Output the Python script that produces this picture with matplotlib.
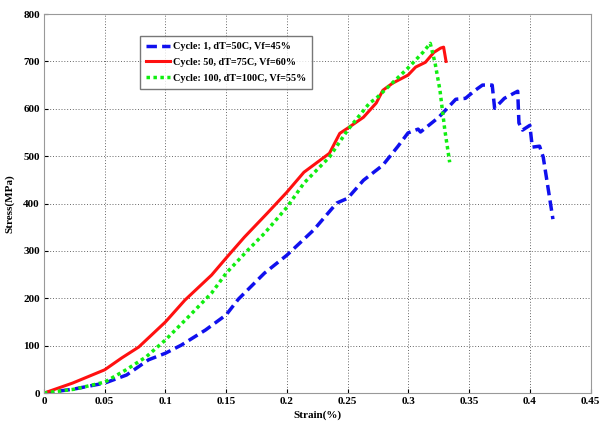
import matplotlib.pyplot as plt

# values
strain_c1 = [0.0, 0.024, 0.05, 0.068, 0.086, 0.1, 0.113, 0.133, 0.15, 0.16, 0.1815,
             0.2, 0.222, 0.241, 0.25, 0.263, 0.279, 0.2915, 0.2997, 0.308, 0.31, 0.325,
             0.339, 0.347, 0.355, 0.361, 0.369, 0.371, 0.379, 0.39, 0.391, 0.394,
             0.40, 0.402, 0.408, 0.411, 0.419]
stress_c1 = [0, 8, 21, 38, 70, 84, 101, 133, 165, 198, 253,
             291, 344, 401, 411, 449, 481, 521, 549, 557, 551, 582,
             620, 622, 639, 650, 650, 601, 622, 637, 570, 555,
             565, 519, 521, 498, 367]

strain_c50 = [0.0, 0.0024, 0.0236, 0.05, 0.064, 0.078, 0.1, 0.116, 0.138, 0.15, 0.165,
              0.184, 0.2, 0.214, 0.235, 0.2435, 0.25, 0.263, 0.2735, 0.279, 0.287,
              0.2997, 0.306, 0.314, 0.321, 0.3265, 0.329, 0.331]
stress_c50 = [0, 2, 21, 49, 74, 97, 150, 196, 249, 285, 329,
              380, 424, 466, 506, 548, 559, 582, 612, 639, 654,
              671, 688, 698, 719, 728, 730, 700]

strain_c100 = [0.0, 0.025, 0.05, 0.0676, 0.084, 0.1, 0.119, 0.138, 0.15, 0.168, 0.1815,
               0.2, 0.214, 0.235, 0.25, 0.268, 0.2735, 0.2997, 0.312, 0.318, 0.322,
               0.326, 0.330, 0.334]
stress_c100 = [0, 8, 23, 49, 76, 112, 161, 211, 253, 302, 337,
               392, 443, 498, 555, 612, 622, 686, 719, 738, 696,
               639, 555, 487]

labels = ['Cycle: 1, dT=50C, Vf=45%', 'Cycle: 50, dT=75C, Vf=60%', 'Cycle: 100, dT=100C, Vf=55%']

plt.rcParams['font.family'] = ['Liberation Serif', 'DejaVu Serif']
plt.rcParams['font.weight'] = 'bold'

fig = plt.figure(figsize=(6.04, 4.23), dpi=100)
ax = fig.add_axes([0.0728, 0.0709, 0.905, 0.896])

ax.plot(strain_c1, stress_c1, color='#1010ee', linestyle=(0, (3, 1.5)), linewidth=2.5, label=labels[0])
ax.plot(strain_c50, stress_c50, color='#ff1010', linestyle='-', linewidth=2.2, label=labels[1])
ax.plot(strain_c100, stress_c100, color='#10ee10', linestyle=(0, (1, 1)), linewidth=2.5, label=labels[2])

ax.set_xlim(0, 0.45)
ax.set_ylim(0, 800)
ax.set_xticks([0, 0.05, 0.1, 0.15, 0.2, 0.25, 0.3, 0.35, 0.4, 0.45])
ax.set_xticklabels(['0', '0.05', '0.1', '0.15', '0.2', '0.25', '0.3', '0.35', '0.4', '0.45'])
ax.set_yticks(range(0, 801, 100))
ax.tick_params(labelsize=8, direction='in', length=3, pad=3)
ax.grid(True, color='#555555', linestyle=(0, (1.2, 2.2)), linewidth=0.6)

for s in ax.spines.values():
    s.set_color('#999999')

ax.set_xlabel('Strain(%)', fontsize=8, fontweight='bold', labelpad=3)
ax.set_ylabel('Stress(MPa)', fontsize=8, fontweight='bold', labelpad=6)

leg = ax.legend(loc='upper left', bbox_to_anchor=(0.167, 0.955), fontsize=7.3, frameon=True,
                fancybox=False, edgecolor='#555555', handlelength=2.3, borderpad=0.6,
                labelspacing=0.65, handletextpad=0.3)
leg.get_frame().set_linewidth(1.0)

fig.savefig('out.png', dpi=100)
